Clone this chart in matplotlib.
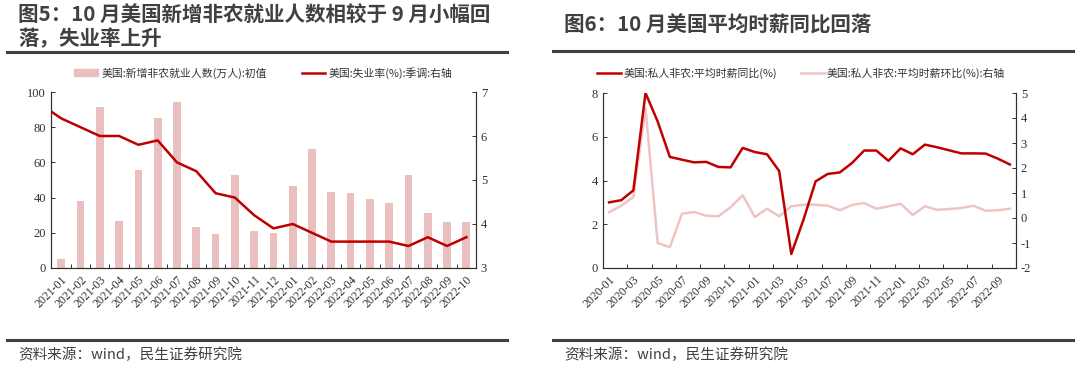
import matplotlib.pyplot as plt
import numpy as np
from matplotlib.lines import Line2D
from matplotlib.patches import Patch

# ---- data ----
months_l = ["2021-01", "2021-02", "2021-03", "2021-04", "2021-05", "2021-06",
            "2021-07", "2021-08", "2021-09", "2021-10", "2021-11", "2021-12",
            "2022-01", "2022-02", "2022-03", "2022-04", "2022-05", "2022-06",
            "2022-07", "2022-08", "2022-09", "2022-10"]
payrolls = [4.9, 37.9, 91.6, 26.6, 55.9, 85.0, 94.3, 23.5, 19.4, 53.1, 21.0,
            19.9, 46.7, 67.8, 43.1, 42.8, 39.0, 37.2, 52.8, 31.5, 26.3, 26.1]
# unemployment rate, starting 2020-12 (partly clipped by the axis)
unemp_months = ["2020-12"] + months_l
unemp = [6.7, 6.4, 6.2, 6.0, 6.0, 5.8, 5.9, 5.4, 5.2, 4.7, 4.6, 4.2, 3.9,
         4.0, 3.8, 3.6, 3.6, 3.6, 3.6, 3.5, 3.7, 3.5, 3.7]

months_r = [f"{y}-{m:02d}" for y in (2020, 2021, 2022) for m in range(1, 13)][:34]
wage_yoy = [3.0, 3.1, 3.55, 8.0, 6.7, 5.08, 4.95, 4.83, 4.85, 4.62, 4.6, 5.49,
            5.3, 5.2, 4.44, 0.64, 2.2, 3.96, 4.3, 4.37, 4.8, 5.37, 5.37, 4.9,
            5.47, 5.2, 5.64, 5.52, 5.38, 5.24, 5.24, 5.23, 5.0, 4.73]
wage_mom = [0.23, 0.49, 0.84, 4.4, -1.0, -1.17, 0.17, 0.24, 0.09, 0.07, 0.43,
            0.91, 0.04, 0.37, 0.07, 0.47, 0.53, 0.53, 0.49, 0.31, 0.52, 0.6,
            0.37, 0.47, 0.57, 0.12, 0.47, 0.33, 0.36, 0.4, 0.49, 0.29, 0.31, 0.37]

RED = "#C00000"
PINK_BAR = "#E9BFC0"
PINK_LINE = "#F0C4C4"
DARK = "#404040"
CJK = ["Noto Sans CJK SC", "DejaVu Sans"]
SERIF = "Liberation Serif"

plt.rcParams["font.family"] = [SERIF, "DejaVu Serif"]

W, H = 1080, 371
fig = plt.figure(figsize=(W / 100, H / 100), dpi=100)


def box(x0, y0, x1, y1):
    return [x0 / W, 1 - y1 / H, (x1 - x0) / W, (y1 - y0) / H]


def hline(y, x0, x1):
    fig.add_artist(Line2D([x0 / W, x1 / W], [1 - y / H, 1 - y / H],
                          color=DARK, lw=2.2, transform=fig.transFigure))


def style_axes(ax, axr):
    for a in (ax, axr):
        a.spines["top"].set_visible(False)
        for s in ("left", "right", "bottom"):
            a.spines[s].set_color("#303030")
            a.spines[s].set_linewidth(0.8)
        a.tick_params(direction="in", length=3, width=0.7, colors="#303030",
                      labelsize=9, labelfontfamily=SERIF)


# ---------------- left chart ----------------
hline(52, 7, 507)
hline(340, 7, 507)
fig.text(18 / W, 1 - 15 / H, "图5：10 月美国新增非农就业人数相较于 9 月小幅回",
         family=CJK, fontsize=14.8, weight="bold", color=DARK, va="center")
fig.text(18 / W, 1 - 39 / H, "落，失业率上升",
         family=CJK, fontsize=14.8, weight="bold", color=DARK, va="center")
fig.text(18 / W, 1 - 355 / H, "资料来源：wind，民生证券研究院",
         family=CJK, fontsize=10.5, color=DARK, va="center")

ax1 = fig.add_axes(box(51, 92, 476, 268))
x_l = np.arange(len(months_l))
ax1.bar(x_l, payrolls, width=0.4, color=PINK_BAR, zorder=1)
ax1.set_ylim(0, 100)
ax1.set_yticks(np.arange(0, 101, 20))
ax1.set_xlim(-0.53, len(months_l) - 0.5)
ax1.set_xticks(x_l)
ax1.set_xticklabels(months_l, rotation=45, ha="right", rotation_mode="anchor",
                    fontsize=8.5)
ax1.set_xticks(x_l[:-1] + 0.5, minor=True)

ax1r = ax1.twinx()
x_u = np.arange(len(unemp_months)) - 1
ax1r.plot(x_u, unemp, color=RED, lw=1.8)
ax1r.set_ylim(3, 7)
ax1r.set_yticks(np.arange(3, 8, 1))
ax1r.set_xlim(ax1.get_xlim())
style_axes(ax1, ax1r)
ax1.tick_params(axis="x", which="major", length=0, pad=4, labelsize=8.5)
ax1.tick_params(axis="x", which="minor", direction="in", length=3, width=0.7,
                colors="#303030")

h1 = [Patch(color=PINK_BAR), Line2D([], [], color=RED, lw=1.8)]
ax1.legend(h1, ["美国:新增非农就业人数(万人):初值", "美国:失业率(%):季调:右轴"],
           loc="center", bbox_to_anchor=(0.5, 1.11), ncol=2, frameon=False,
           prop={"family": CJK, "size": 7.8}, handlelength=2.2,
           handleheight=0.6, columnspacing=3.2, handletextpad=0.3,
           labelcolor="#333333")

# ---------------- right chart ----------------
hline(51, 553, 1073)
hline(340, 553, 1073)
fig.text(564 / W, 1 - 25 / H, "图6：10 月美国平均时薪同比回落",
         family=CJK, fontsize=14.8, weight="bold", color=DARK, va="center")
fig.text(564 / W, 1 - 355 / H, "资料来源：wind，民生证券研究院",
         family=CJK, fontsize=10.5, color=DARK, va="center")

ax2 = fig.add_axes(box(603, 93, 1016, 268))
x_r = np.arange(len(months_r))
ax2r = ax2.twinx()
ax2r.plot(x_r, wage_mom, color=PINK_LINE, lw=1.8)
ax2.plot(x_r, wage_yoy, color=RED, lw=1.8)
ax2.set_zorder(ax2r.get_zorder() + 1)
ax2.patch.set_visible(False)
ax2.set_ylim(0, 8)
ax2.set_yticks(np.arange(0, 9, 2))
ax2r.set_ylim(-2, 5)
ax2r.set_yticks(np.arange(-2, 6, 1))
ax2r.set_yticklabels([str(v) for v in range(-2, 6)])
ax2.set_xlim(-0.5, len(months_r) - 0.5)
ax2r.set_xlim(ax2.get_xlim())
ax2.set_xticks(x_r[::2])
ax2.set_xticklabels(months_r[::2], rotation=45, ha="right",
                    rotation_mode="anchor", fontsize=8.5)
ax2.set_xticks(x_r[1:-1:2] + 0.5, minor=True)
style_axes(ax2, ax2r)
ax2.tick_params(axis="x", which="major", length=0, pad=4, labelsize=8.5)
ax2.tick_params(axis="x", which="minor", direction="in", length=3, width=0.7,
                colors="#303030")

h2 = [Line2D([], [], color=RED, lw=1.8), Line2D([], [], color=PINK_LINE, lw=1.8)]
ax2.legend(h2, ["美国:私人非农:平均时薪同比(%)", "美国:私人非农:平均时薪环比(%):右轴"],
           loc="center", bbox_to_anchor=(0.48, 1.11), ncol=2, frameon=False,
           prop={"family": CJK, "size": 7.8}, handlelength=2.2,
           columnspacing=2.2, handletextpad=0.2, labelcolor="#333333")

fig.savefig("out.png", dpi=100)
